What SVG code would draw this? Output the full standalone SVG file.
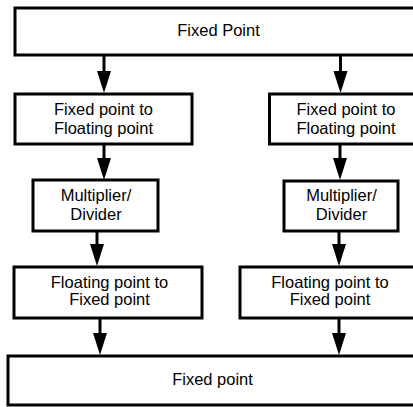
<svg xmlns="http://www.w3.org/2000/svg" xmlns:xlink="http://www.w3.org/1999/xlink" width="413" height="407" viewBox="0 0 413 407">
<defs>
<style>
.box{fill:#fff;stroke:#000;stroke-width:3}
.t{font-family:"Liberation Sans",Arial,sans-serif;font-size:16.5px;fill:#000;text-anchor:middle}
.c{stroke:#000;stroke-width:3;fill:none}
</style>
<path id="head" d="M-7,-22 L7,-22 L0,0 Z" fill="#000"/>
</defs>
<rect width="413" height="407" fill="#fff"/>
<g id="connectors">
<line class="c" x1="104" y1="55" x2="104" y2="75"/>
<use href="#head" xlink:href="#head" x="104" y="93"/>
<line class="c" x1="340.5" y1="55" x2="340.5" y2="75"/>
<use href="#head" xlink:href="#head" x="340.5" y="93"/>
<line class="c" x1="104" y1="144" x2="104" y2="162"/>
<use href="#head" xlink:href="#head" x="104" y="180"/>
<line class="c" x1="340" y1="144" x2="340" y2="162"/>
<use href="#head" xlink:href="#head" x="340" y="180"/>
<line class="c" x1="97" y1="231" x2="97" y2="248"/>
<use href="#head" xlink:href="#head" x="97" y="266"/>
<line class="c" x1="339" y1="231" x2="339" y2="248"/>
<use href="#head" xlink:href="#head" x="339" y="266"/>
<line class="c" x1="100" y1="318" x2="100" y2="337"/>
<use href="#head" xlink:href="#head" x="100" y="355"/>
<line class="c" x1="339" y1="318" x2="339" y2="337"/>
<use href="#head" xlink:href="#head" x="339" y="355"/>
</g>
<g id="fixed-top">
<rect class="box" x="15" y="8" width="407" height="47"/>
<text class="t" x="218.5" y="36">Fixed Point</text>
</g>
<g id="fx2fl-left">
<rect class="box" x="15" y="94" width="177" height="50"/>
<text class="t" x="103.5" y="115">Fixed point to</text>
<text class="t" x="103.5" y="133.5">Floating point</text>
</g>
<g id="fx2fl-right">
<rect class="box" x="269.5" y="94" width="154" height="50"/>
<text class="t" x="346" y="115">Fixed point to</text>
<text class="t" x="346" y="133.5">Floating point</text>
</g>
<g id="muldiv-left">
<rect class="box" x="33" y="180" width="125" height="51"/>
<text class="t" x="96" y="200.5">Multiplier/</text>
<text class="t" x="96" y="220">Divider</text>
</g>
<g id="muldiv-right">
<rect class="box" x="284" y="181" width="114" height="50"/>
<text class="t" x="341.5" y="200.5">Multiplier/</text>
<text class="t" x="341.5" y="220">Divider</text>
</g>
<g id="fl2fx-left">
<rect class="box" x="14" y="267" width="188" height="51"/>
<text class="t" x="109.5" y="287.5">Floating point to</text>
<text class="t" x="109.5" y="305">Fixed point</text>
</g>
<g id="fl2fx-right">
<rect class="box" x="240" y="267" width="180" height="51"/>
<text class="t" x="330" y="287.5">Floating point to</text>
<text class="t" x="330" y="305">Fixed point</text>
</g>
<g id="fixed-bottom">
<rect class="box" x="8" y="356" width="409" height="49"/>
<text class="t" x="212.5" y="385">Fixed point</text>
</g>
</svg>
